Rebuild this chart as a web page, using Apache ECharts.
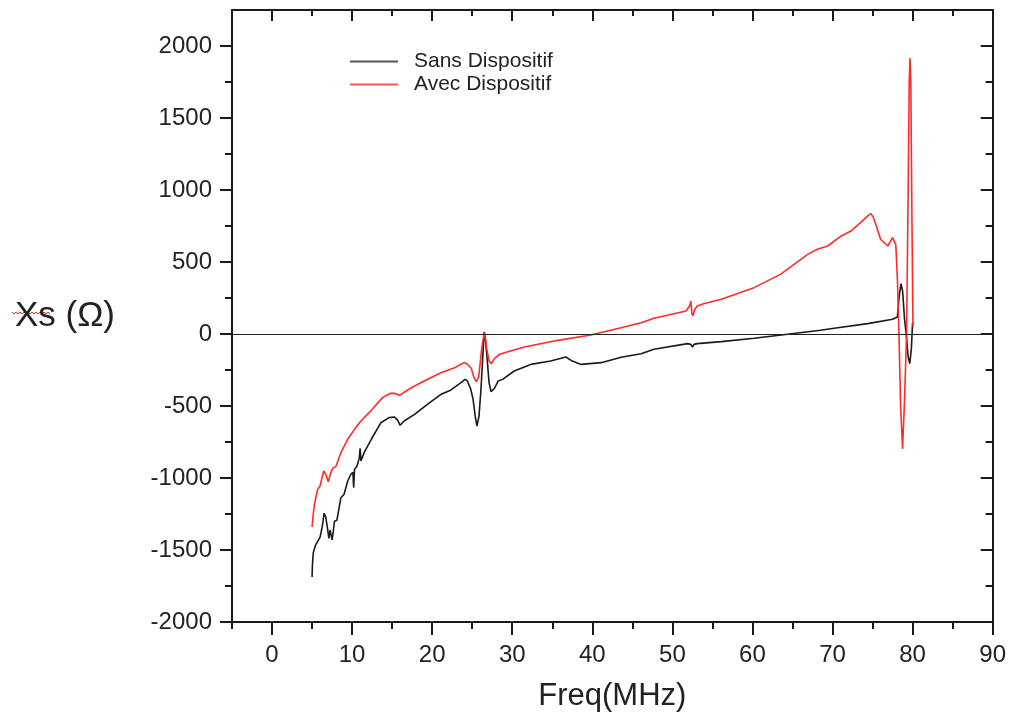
<!DOCTYPE html>
<html><head><meta charset="utf-8">
<script src="https://cdn.jsdelivr.net/npm/echarts@6/dist/echarts.min.js"></script>
<style>html,body{margin:0;padding:0;background:#fff}#c{width:1009px;height:719px}</style>
</head><body><div id="c"></div>
<script>
// ---- data ----
const freqSans = [5.0,5.05,5.15,5.4,5.7,6.0,6.3,6.5,6.7,6.9,7.1,7.25,7.35,7.5,7.65,7.8,8.1,8.6,9.0,9.45,9.85,10.1,10.2,10.3,10.6,10.9,11.0,11.1,11.5,12.4,13.6,14.6,15.3,15.7,16.0,16.5,17.8,19.4,21.1,22.3,23.6,24.1,24.4,24.8,25.1,25.4,25.6,25.85,26.1,26.3,26.5,26.65,26.85,27.1,27.35,27.55,27.8,28.25,28.8,30.25,32.3,34.8,36.7,37.5,38.6,41.1,43.6,46.1,47.7,51.9,52.3,52.5,52.7,53.1,56.1,60.2,64.4,68.5,70.2,74.4,77.5,78.1,78.3,78.55,78.75,79.0,79.2,79.45,79.65,79.85,80.0];
const xsSans = [-1687,-1600,-1520,-1470,-1440,-1410,-1330,-1245,-1270,-1340,-1420,-1360,-1350,-1430,-1370,-1300,-1294,-1137,-1113,-1021,-974,-960,-1067,-940,-920,-860,-794,-882,-824,-731,-616,-581,-576,-600,-634,-604,-558,-488,-419,-390,-338,-315,-326,-380,-450,-580,-639,-570,-380,-180,15,-40,-160,-338,-400,-408,-375,-326,-315,-257,-211,-188,-160,-188,-211,-199,-162,-137,-106,-67,-72,-90,-72,-67,-53,-30,-2,26,40,72,102,118,250,350,300,100,0,-160,-206,-100,80];
const freqAvec = [5.0,5.15,5.3,5.7,6.0,6.45,6.75,7.03,7.3,7.58,8.0,8.6,9.45,10.3,11.1,12.4,13.8,14.8,15.3,15.9,17.4,19.0,21.1,22.8,24.0,24.4,24.9,25.2,25.5,25.8,26.0,26.2,26.5,26.65,26.8,27.1,27.4,27.8,28.4,31.5,35.7,39.8,43.6,46.1,47.7,51.7,52.2,52.3,52.45,52.55,52.8,53.1,53.9,56.1,60.2,63.5,65.2,66.9,68.1,69.4,71.1,72.3,73.5,74.5,74.8,75.1,75.4,76.0,76.9,77.3,77.5,77.7,77.9,78.1,78.3,78.5,78.75,79.0,79.25,79.45,79.58,79.68,79.78,79.92,80.05];
const xsAvec = [-1340,-1250,-1180,-1079,-1055,-951,-980,-1026,-970,-933,-917,-824,-731,-662,-604,-530,-442,-412,-412,-426,-373,-326,-269,-234,-199,-210,-240,-300,-331,-303,-200,-95,10,-30,-95,-188,-206,-169,-141,-90,-44,-7,44,78,109,160,200,229,140,125,170,194,210,241,322,414,484,553,588,611,681,715,773,825,836,810,762,658,611,650,669,660,623,391,0,-500,-798,-450,0,1000,1750,1917,1750,800,50];
const xMajor = [0,10,20,30,40,50,60,70,80,90];
const xMinor = [-5,5,15,25,35,45,55,65,75,85];
const yMajor = [-2000,-1500,-1000,-500,0,500,1000,1500,2000];
const yMinor = [-1750,-1250,-750,-250,250,750,1250,1750];
const seriesNames = ['Sans Dispositif','Avec Dispositif'];

// ---- chart ----
const ink = '#1a1a1a';
const XMIN=-5, XMAX=90, YMIN=-2000, YMAX=2250;
function lineAx(show){ return show ? {show:true, onZero:false, lineStyle:{color:ink, width:2}} : {show:false, onZero:false}; }
function lbl(labels, vals, margin){
  return labels ? {show:true, customValues:vals, fontSize:24, color:'#222', fontFamily:'Liberation Sans, Arial', margin:margin,
    formatter:function(v){return String(v);}} : {show:false};
}
function xa(pos, vals, len, inside, labels, showLine, extra){
  return Object.assign({type:'value', position:pos, min:XMIN, max:XMAX,
    axisLine: lineAx(showLine),
    axisTick:{show:true, inside:inside, length:len, customValues:vals, lineStyle:{color:ink,width:2}},
    axisLabel: lbl(labels, vals, 21),
    splitLine:{show:false}, minorTick:{show:false}}, extra||{});
}
function ya(pos, vals, len, inside, labels, showLine, extra){
  return Object.assign({type:'value', position:pos, min:YMIN, max:YMAX,
    axisLine: lineAx(showLine),
    axisTick:{show:true, inside:inside, length:len, customValues:vals, lineStyle:{color:ink,width:2}},
    axisLabel: lbl(labels, vals, 20),
    splitLine:{show:false}, minorTick:{show:false}}, extra||{});
}
const chart = echarts.init(document.getElementById('c'), null, {renderer:'canvas'});
chart.setOption({
  animation:false,
  backgroundColor:'#fff',
  grid:{left:232, right:16, top:10, bottom:97, containLabel:false},
  legend:{
    orient:'vertical', left:345, top:46, itemWidth:48, itemHeight:2, itemGap:2, icon:'rect',
    data:[{name:seriesNames[0], itemStyle:{color:'#555'}},{name:seriesNames[1], itemStyle:{color:'#ff5555'}}],
    textStyle:{fontSize:21, color:'#222', fontFamily:'Liberation Sans, Arial', padding:[0,0,0,11], lineHeight:21}
  },
  xAxis:[
    xa('bottom', xMajor, 13, false, true, true, {name:'Freq(MHz)', nameLocation:'middle', nameGap:59,
      nameTextStyle:{fontSize:31, color:'#222', fontFamily:'Liberation Sans, Arial'}}),
    xa('bottom', xMinor, 7, false, false, false),
    xa('top', xMajor, 11, true, false, true),
    xa('top', xMinor, 6, true, false, false)
  ],
  yAxis:[
    ya('left', yMajor, 12, false, true, true, {name:'Xs (Ω)', nameLocation:'middle', nameRotate:0, nameGap:117,
      nameTextStyle:{fontSize:35, color:'#222', fontFamily:'Liberation Sans, Arial', align:'right', verticalAlign:'middle', padding:[0,0,48,0]}}),
    ya('left', yMinor, 7, false, false, false),
    ya('right', yMajor, 12, true, false, true),
    ya('right', yMinor, 7, true, false, false)
  ],
  graphic:[{type:'polyline', silent:true, shape:{points:(function(){const p=[];for(let i=0;i<=19;i++){p.push([12+i*2, 312+(i%2?2:0)]);}return p;})()},
    style:{stroke:'#e03030', lineWidth:1, fill:null}}],
  series:[
    {name:seriesNames[0], type:'line', xAxisIndex:0, yAxisIndex:0, showSymbol:false, symbol:'none',
     data: freqSans.map((f,i)=>[f, xsSans[i]]), lineStyle:{color:ink, width:1.6}, itemStyle:{color:ink},
     markLine:{silent:true, symbol:['none','none'], label:{show:false}, lineStyle:{color:'#222', width:1.2, type:'solid'}, data:[{yAxis:0}], animation:false}},
    {name:seriesNames[1], type:'line', xAxisIndex:0, yAxisIndex:0, showSymbol:false, symbol:'none',
     data: freqAvec.map((f,i)=>[f, xsAvec[i]]), lineStyle:{color:'#ff2a2a', width:1.6}, itemStyle:{color:'#ff2a2a'}}
  ]
});
</script></body></html>
